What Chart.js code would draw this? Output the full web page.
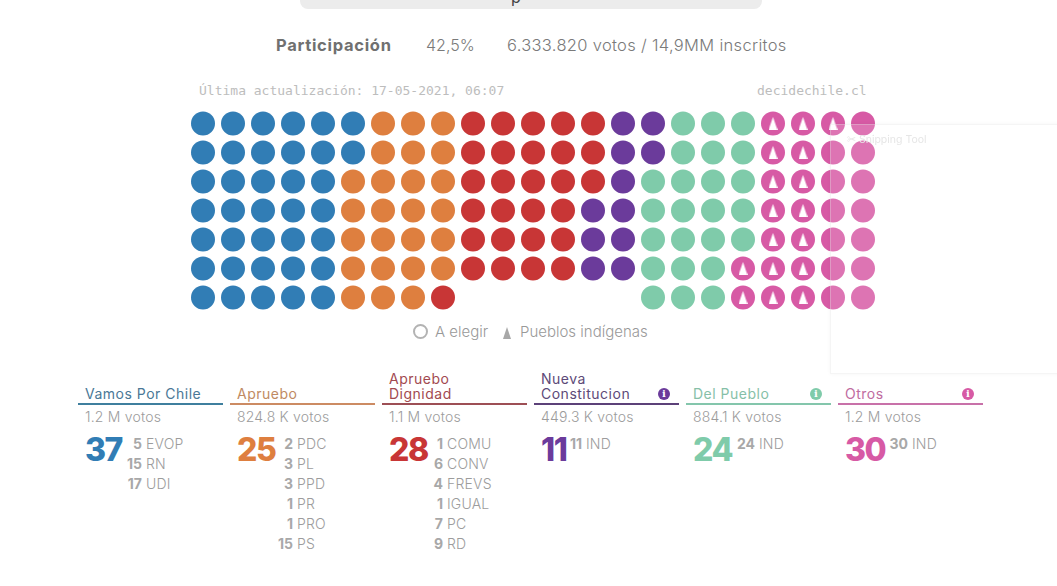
<!DOCTYPE html>
<html lang="es">
<head>
<meta charset="utf-8">
<title>Participación</title>
<script src="https://cdn.jsdelivr.net/npm/chart.js@4"></script>
<style>
  html, body { margin: 0; background: #fff; }
  body { width: 1057px; height: 586px; position: relative; overflow: hidden; font-family: Inter, "Open Sans", sans-serif; color: #888; }
  .abs { position: absolute; white-space: nowrap; }
  .mono { font-family: "DejaVu Sans Mono", monospace; font-size: 13px; color: #bdbdbd; }
  #topbar { left: 300px; top: -20px; width: 462px; height: 29px; background: #ececec; border-radius: 8px; overflow: hidden; }
  #topbar span { position: absolute; left: 211px; top: 7px; font-size: 16px; color: #444; }
  #chart-box { position: absolute; left: 188px; top: 109px; width: 690px; height: 203px; }
  #snip { left: 830px; top: 124px; width: 240px; height: 248px; background: rgba(255,255,255,.16); border: 1px solid rgba(225,225,225,.35); box-shadow: 0 0 4px rgba(0,0,0,.04); }
  .ring { width: 11px; height: 11px; border: 2px solid #b3b3b3; border-radius: 50%; }
  .info { width: 12px; height: 12px; border-radius: 50%; color: #fff; font: bold 10px/12px "DejaVu Serif", serif; text-align: center; }
</style>
</head>
<body>
<div class="abs" id="topbar"><span>p</span></div>
<div class="abs" style="left:276px;top:35px;font-size:16.5px;font-weight:700;color:#707070;letter-spacing:.7px">Participación</div>
<div class="abs" style="left:426px;top:35px;font-size:16px;font-weight:300;color:#7a7a7a">42,5%</div>
<div class="abs" style="left:507px;top:35px;font-size:16.5px;font-weight:300;color:#7a7a7a;letter-spacing:.32px">6.333.820 votos / 14,9MM inscritos</div>
<div class="abs mono" style="left:199px;top:83px">Última actualización: 17-05-2021, 06:07</div>
<div class="abs mono" style="left:757px;top:83px">decidechile.cl</div>
<div id="chart-box"><canvas id="dots" width="690" height="203"></canvas></div>
<div class="abs ring" style="left:413px;top:324px"></div>
<div class="abs" style="left:435px;top:322px;font-size:15px;font-weight:300;color:#999">A elegir</div>
<svg class="abs" style="left:502px;top:327px" width="10" height="12"><polygon points="5,0 9,12 1,12" fill="#a8a8a8"/></svg>
<div class="abs" style="left:520px;top:322px;font-size:15px;font-weight:300;color:#999">Pueblos indígenas</div>
<div id="cols"></div>
<div class="abs" id="snip"></div>
<div class="abs" style="left:847px;top:133px;font-size:10.5px;color:#e6e6e6">✂ Snipping Tool</div>

<script>
const coalitions = ['Vamos Por Chile', 'Apruebo', 'Apruebo<br>Dignidad', 'Nueva<br>Constitucion', 'Del Pueblo', 'Otros'];
const votes = ['1.2 M votos', '824.8 K votos', '1.1 M votos', '449.3 K votos', '884.1 K votos', '1.2 M votos'];
const seats = [37, 25, 28, 11, 24, 30];
const partyNames = [
  ['EVOP', 'RN', 'UDI'],
  ['PDC', 'PL', 'PPD', 'PR', 'PRO', 'PS'],
  ['COMU', 'CONV', 'FREVS', 'IGUAL', 'PC', 'RD'],
  ['IND'],
  ['IND'],
  ['IND']
];
const partySeats = [
  [5, 15, 17],
  [2, 3, 3, 1, 1, 15],
  [1, 6, 4, 1, 7, 9],
  [11],
  [24],
  [30]
];
const hasInfo = [false, false, false, true, true, true];

// seats per column of the hemicycle grid, filled top to bottom
const columnHeights = [7, 7, 7, 7, 7, 7, 7, 7, 7, 6, 6, 6, 6, 6, 6, 7, 7, 7, 7, 7, 7, 7, 7];
const indigenousSeats = 17; // first seats of "Otros"

const colors = ['#317db5', '#de7f3f', '#c83636', '#6b3b9b', '#7fcbaa', '#d75aa5'];
const titleColors = ['#4a7896', '#c08a62', '#a24a50', '#5d4a78', '#86bfa8', '#c06ca0'];
const lineColors = ['#3f7f9e', '#cc8b63', '#9d4f55', '#5c4179', '#84c6ac', '#c871a9'];
const countRight = [64, 63, 61, 48, 69, 70];

// walk the grid once, one seat at a time
const grid = [];
columnHeights.forEach((h, col) => {
  for (let row = 0; row < h; row++) grid.push({ x: col, y: row });
});

let cursor = 0;
const datasets = seats.map((n, i) => {
  const data = grid.slice(cursor, cursor + n);
  cursor += n;
  return { label: coalitions[i], data, backgroundColor: colors[i], pointRadius: 12, pointHoverRadius: 12, borderWidth: 0, order: 2 };
});

// narrow white triangle used as point style
const tri = document.createElement('canvas');
tri.width = 9;
tri.height = 13;
const tctx = tri.getContext('2d');
tctx.fillStyle = '#fff';
tctx.beginPath();
tctx.moveTo(4.5, 0);
tctx.lineTo(9, 13);
tctx.lineTo(0, 13);
tctx.fill();

datasets.push({
  label: 'Pueblos indígenas',
  data: datasets[5].data.slice(0, indigenousSeats),
  pointStyle: tri,
  order: 1
});

new Chart(document.getElementById('dots'), {
  type: 'scatter',
  data: { datasets },
  options: {
    responsive: false,
    animation: false,
    events: [],
    layout: { padding: 0, autoPadding: false },
    plugins: { legend: { display: false }, tooltip: { enabled: false } },
    scales: {
      x: { display: false, min: -0.5, max: 22.5 },
      y: { display: false, min: -0.5, max: 6.5, reverse: true }
    }
  }
});

// coalition columns below the chart
const cols = document.getElementById('cols');
coalitions.forEach((name, i) => {
  const left = 78 + i * 152;
  let html = `
    <div class="abs" style="left:${left + 7}px;bottom:${586 - 401}px;font-size:14px;line-height:15px;color:${titleColors[i]};letter-spacing:.5px">${name}</div>
    <div class="abs" style="left:${left}px;top:403px;width:145px;height:2px;background:${lineColors[i]}"></div>
    <div class="abs" style="left:${left + 7}px;top:408px;font-size:14px;font-weight:300;color:#9c9c9c;letter-spacing:.2px">${votes[i]}</div>
    <div class="abs" style="left:${left + 7}px;top:430px;font-size:32px;font-weight:800;color:${colors[i]};letter-spacing:-1.5px">${seats[i]}</div>`;
  if (hasInfo[i]) {
    html += `<div class="abs info" style="left:${left + 124}px;top:388px;background:${colors[i]}">i</div>`;
  }
  partyNames[i].forEach((p, j) => {
    const y = 435 + j * 20;
    html += `
      <div class="abs" style="left:${left + countRight[i] - 40}px;width:40px;top:${y}px;text-align:right;font-size:14px;font-weight:700;color:#a8a8a8">${partySeats[i][j]}</div>
      <div class="abs" style="left:${left + countRight[i] + 4}px;top:${y}px;font-size:14px;font-weight:300;color:#9c9c9c;letter-spacing:.2px">${p}</div>`;
  });
  cols.insertAdjacentHTML('beforeend', html);
});
</script>
</body>
</html>
